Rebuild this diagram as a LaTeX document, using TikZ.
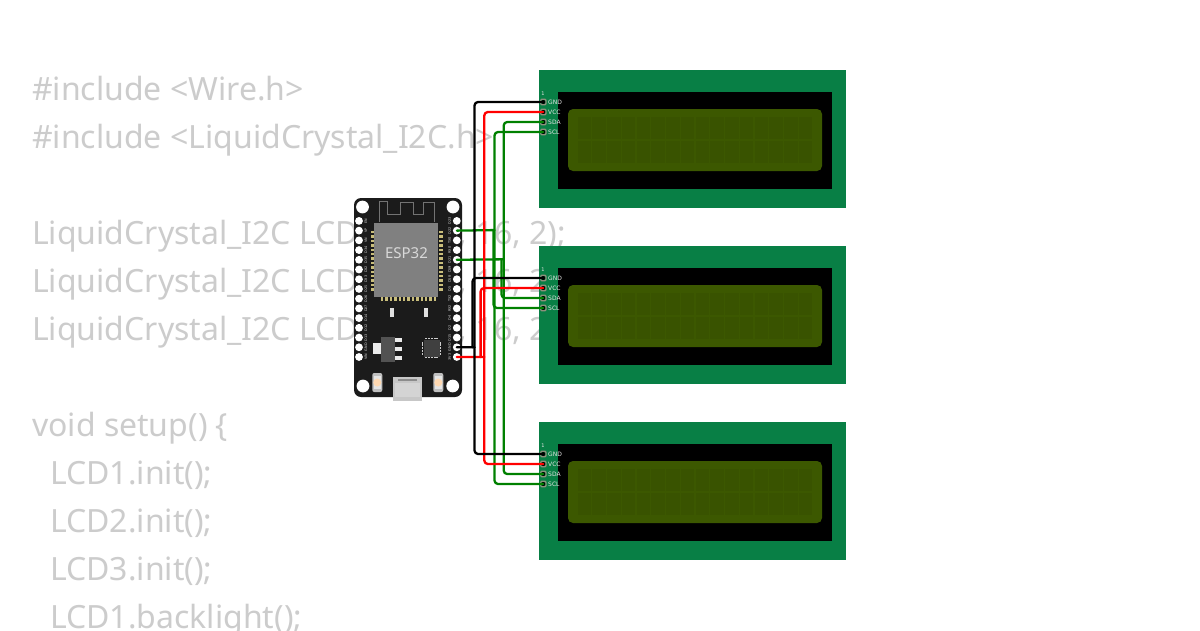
\documentclass[tikz,border=0pt]{standalone}
\usepackage{fontspec}
\setmainfont{Noto Sans}
\newfontfamily\labelfont{DejaVu Sans}
\definecolor{codegrey}{HTML}{CCCCCC}
\definecolor{pcbgreen}{HTML}{087F45}
\definecolor{lcdscreen}{HTML}{3C5800}
\definecolor{lcdcell}{HTML}{395300}
\definecolor{boardblack}{HTML}{1B1B1B}
\definecolor{modgrey}{HTML}{808080}
\definecolor{padgold}{HTML}{C9BE7C}
\definecolor{wiregreen}{HTML}{008000}
\definecolor{padring}{HTML}{8F8F7C}
\tikzset{
  codeline/.style={anchor=base west,inner sep=0pt,text=codegrey,font=\fontsize{32}{32}\selectfont},
  pinlabel/.style={rotate=90,inner sep=0pt,text=white!85!black,font=\labelfont\fontsize{3.4}{4}\selectfont},
  lcdlabel/.style={anchor=west,inner sep=0pt,text=white!90!black,font=\labelfont\fontsize{6}{6}\selectfont},
  wire/.style={line width=2.3pt,rounded corners=3.5pt,line cap=round,line join=round},
}
\begin{document}
\begin{tikzpicture}[x=1pt,y=-1pt]
\useasboundingbox (0,0) rectangle (1200,630);
\begin{scope}
\clip (0,0) rectangle (1200,630);
\fill[white] (0,0) rectangle (1200,630);
% code
\node[codeline] (c1) at (32,100) {\#include <Wire.h>};
\node[codeline] (c2) at (32,148) {\#include <LiquidCrystal\_I2C.h>};
\node[codeline] (c3) at (32,244) {LiquidCrystal\_I2C LCD1(0x27, 16, 2);};
\node[codeline] (c4) at (32,292) {LiquidCrystal\_I2C LCD2(0x26, 16, 2);};
\node[codeline] (c5) at (32,340) {LiquidCrystal\_I2C LCD3(0x25, 16, 2);};
\node[codeline] (c6) at (32,436) {void setup() \{};
\node[codeline] (c7) at (50,484) {LCD1.init();};
\node[codeline] (c8) at (50,532) {LCD2.init();};
\node[codeline] (c9) at (50,580) {LCD3.init();};
\node[codeline] (c10) at (50,628) {LCD1.backlight();};
% LCDs
\foreach \n/\dy in {1/0,2/176,3/352}{
  \begin{scope}[yshift=-\dy pt]
    \fill[pcbgreen] (539,70) rectangle (846,208);
    \fill[black] (558,92) rectangle (832,189);
    \fill[lcdscreen,rounded corners=5pt] (568,109) rectangle (822,171);
    \foreach \c in {0,...,15}{
      \fill[lcdcell] (577.5+14.75*\c,117) rectangle ++(13.6,22);
      \fill[lcdcell] (577.5+14.75*\c,141) rectangle ++(13.6,22);
    }
    \node[inner sep=0pt,text=white!90!black,font=\labelfont\fontsize{5}{6}\selectfont] (lcd\n-one) at (543,94) {1};
    \foreach \p/\t/\y in {gnd/GND/102,vcc/VCC/112,sda/SDA/122,scl/SCL/132}{
      \draw[padring,line width=1.2pt,rounded corners=1pt] (540.6,\y-2.7) rectangle (546,\y+2.7);
      \fill[black] (543.3,\y) circle (2);
      \coordinate (lcd\n-\p) at (543.3,\y);
      \node[lcdlabel] (lcd\n-\p-t) at (548,\y) {\t};
    }
  \end{scope}
}
% ESP32 board
\fill[boardblack,rounded corners=7pt] (354,198) rectangle (462,397);
\foreach \x/\y in {362.5/207,453/207,363/386,452.7/386}{\fill[white] (\x,\y) circle (6.4);}
% antenna
\draw[black!55,line width=0.7pt] (379.3,222) -- (379.3,201.7) -- (387.7,201.7) -- (387.7,214) -- (400,214) -- (400,202.7) -- (413.3,202.7) -- (413.3,214) -- (423.3,214) -- (423.3,202.7) -- (434.3,202.7) -- (434.3,222);
% module
\foreach \i in {0,...,13}{
  \fill[padgold] (370.5,231+4.4*\i) rectangle ++(3.8,2.4);
  \fill[padgold] (438.6,231+4.4*\i) rectangle ++(4.2,2.4);
}
\foreach \i in {0,...,12}{\fill[padgold] (381+4.4*\i,297) rectangle ++(2.4,4);}
\fill[modgrey] (374.3,223) rectangle (438.3,296.8);
\node[inner sep=0pt,text=white!85!black,font=\fontsize{15}{15}\selectfont] (esplabel) at (406.5,253) {ESP32};
\fill[white!88!black] (389.8,307.5) rectangle ++(3.8,9);
\fill[white!88!black] (424.2,307.5) rectangle ++(3.8,9);
% regulator
\fill[white!92!black] (373.3,343) rectangle (381,354);
\fill[white!92!black] (395,338) rectangle (401.5,342);
\fill[white!92!black] (395,347) rectangle (401.5,351);
\fill[white!92!black] (395,356) rectangle (401.5,360);
\fill[black!68] (380.7,336.7) rectangle (395,361.7);
% chip
\fill[black!75] (423.5,339.5) rectangle (439.5,356.5);
\foreach \i in {0,...,4}{
  \fill[white!80!black] (425.2+2.8*\i,337.6) rectangle ++(2,1.8);
  \fill[white!80!black] (425.2+2.8*\i,356.6) rectangle ++(2,1.8);
  \fill[white!80!black] (421.6,341.6+2.8*\i) rectangle ++(1.8,2);
  \fill[white!80!black] (439.6,341.6+2.8*\i) rectangle ++(1.8,2);
}
% buttons
\foreach \x in {377.3,438.3}{
  \fill[black!25,rounded corners=2pt] (\x-5,373) rectangle (\x+5,392);
  \fill[white!90!black] (\x-3.8,376) rectangle (\x+3.8,389);
  \fill[orange!30!white] (\x,382.5) circle (4);
}
% usb
\fill[black!22] (393.3,376.7) rectangle (421.7,401);
\fill[black!45] (398,379) -- (417,379) -- (417,381) -- (398,381) -- cycle;
\fill[black!17] (395,383) rectangle (420,397);
% pins
\foreach \n/\lbl/\rbl in {0/EN/D23,1/VP/D22,2/VN/TX0,3/D34/RX0,4/D35/D21,5/D32/D19,6/D33/D18,7/D25/D5,8/D26/TX2,9/D27/RX2,10/D14/D4,11/D12/D2,12/D13/D15,13/GND/GND,14/VIN/3V3}{
  \pgfmathsetmacro{\py}{220.9+9.72*\n}
  \fill[white] (359,\py) circle (3.9);
  \fill[white] (456.8,\py) circle (3.9);
  \node[pinlabel] (l\n) at (365.8,\py) {\lbl};
  \node[pinlabel] (r\n) at (449.6,\py) {\rbl};
  \coordinate (esp\n) at (456.8,\py);
}
% junctions
\coordinate (jscl) at (493.5,230.1);
\coordinate (jsclb) at (494.5,230.1);
\coordinate (jsda) at (501.5,259.3);
\coordinate (jsdb) at (503.7,259.3);
\coordinate (jgnd) at (474.5,347.3);
\coordinate (jgnb) at (472.5,347.3);
\coordinate (jvcc) at (484.3,357);
\coordinate (jvcb) at (480.6,357);
% wires
\draw[wire,wiregreen] (esp1) -- (jscl);
\draw[wire,wiregreen] (esp4) -- (jsdb);
\draw[wire,wiregreen] (jsclb) |- (lcd1-scl);
\draw[wire,wiregreen] (jsclb) |- (lcd3-scl);
\draw[wire,wiregreen] (jscl) |- (lcd2-scl);
\draw[wire,wiregreen] (jsdb) |- (lcd1-sda);
\draw[wire,wiregreen] (jsdb) |- (lcd3-sda);
\draw[wire,wiregreen] (jsda) |- (lcd2-sda);
\draw[wire,red] (esp14) -- (jvcc);
\draw[wire,red] (jvcc) |- (lcd1-vcc);
\draw[wire,red] (jvcc) |- (lcd3-vcc);
\draw[wire,red] (jvcb) |- (lcd2-vcc);
\draw[wire,black] (esp13) -- (jgnd);
\draw[wire,black] (jgnd) |- (lcd1-gnd);
\draw[wire,black] (jgnd) |- (lcd3-gnd);
\draw[wire,black] (jgnb) |- (lcd2-gnd);
\end{scope}
\end{tikzpicture}
\end{document}
